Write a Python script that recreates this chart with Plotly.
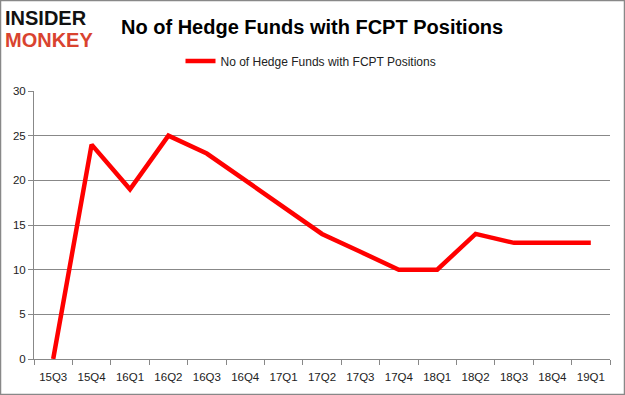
import plotly.graph_objects as go

quarters = ["15Q3", "15Q4", "16Q1", "16Q2", "16Q3", "16Q4", "17Q1", "17Q2",
            "17Q3", "17Q4", "18Q1", "18Q2", "18Q3", "18Q4", "19Q1"]
funds = [0, 24, 19, 25, 23, 20, 17, 14, 12, 10, 10, 14, 13, 13, 13]
series_name = "No of Hedge Funds with FCPT Positions"
y_ticks = [0, 5, 10, 15, 20, 25, 30]

W, H = 625, 395
L, R, T, B = 34, 15, 91, 36
pw, ph = W - L - R, H - T - B

def px(x):
    return (x - L) / pw

def py(y):
    return (H - B - y) / ph

fig = go.Figure()
fig.add_trace(go.Scatter(
    x=quarters, y=funds, mode="lines", name=series_name,
    line=dict(color="#ff0000", width=4.5),
))

font = "Liberation Sans"
fig.update_layout(
    width=W, height=H,
    margin=dict(l=L, r=R, t=T, b=B, autoexpand=False),
    paper_bgcolor="white", plot_bgcolor="white",
    showlegend=True,
    legend=dict(orientation="h", x=px(311), xanchor="center", y=py(61), yanchor="middle",
                font=dict(family=font, size=12, color="#222"), bgcolor="rgba(0,0,0,0)"),
    xaxis=dict(type="category", range=[-0.5, 14.5], showgrid=False, automargin=False,
               showline=True, linecolor="#888", linewidth=1, tickangle=0,
               ticks="outside", tickson="boundaries", ticklen=5, tickcolor="#888",
               ticklabelstandoff=7,
               tickfont=dict(family=font, size=11.5, color="#222")),
    yaxis=dict(range=[0, 30], tickvals=y_ticks, showgrid=True, gridcolor="#888", gridwidth=1,
               showline=True, linecolor="#888", linewidth=1, zeroline=False, automargin=False,
               ticks="outside", ticklen=5, tickcolor="#888",
               tickfont=dict(family=font, size=11.5, color="#222")),
)

fig.add_annotation(text="<b>No of Hedge Funds with FCPT Positions</b>", xref="paper", yref="paper",
                   x=px(119), y=py(27), xanchor="left", yanchor="middle", showarrow=False,
                   font=dict(family=font, size=20, color="#000"))
fig.add_annotation(text="<b>INSIDER</b>", xref="paper", yref="paper",
                   x=px(3), y=py(18), xanchor="left", yanchor="middle", showarrow=False,
                   font=dict(family="Liberation Sans", size=20, color="#111"))
fig.add_annotation(text="<b>MONKEY</b>", xref="paper", yref="paper",
                   x=px(3), y=py(40), xanchor="left", yanchor="middle", showarrow=False,
                   font=dict(family="Liberation Sans", size=20, color="#d9432f"))

fig.add_shape(type="rect", xref="paper", yref="paper",
              x0=px(0.5), x1=px(W - 0.5), y0=py(H - 0.5), y1=py(0.5),
              line=dict(color="#888", width=1.5), fillcolor="rgba(0,0,0,0)", layer="below")

fig.write_html("out.html", config={"displayModeBar": False},
               post_script="document.body.style.margin='0';document.body.style.overflow='hidden';")
